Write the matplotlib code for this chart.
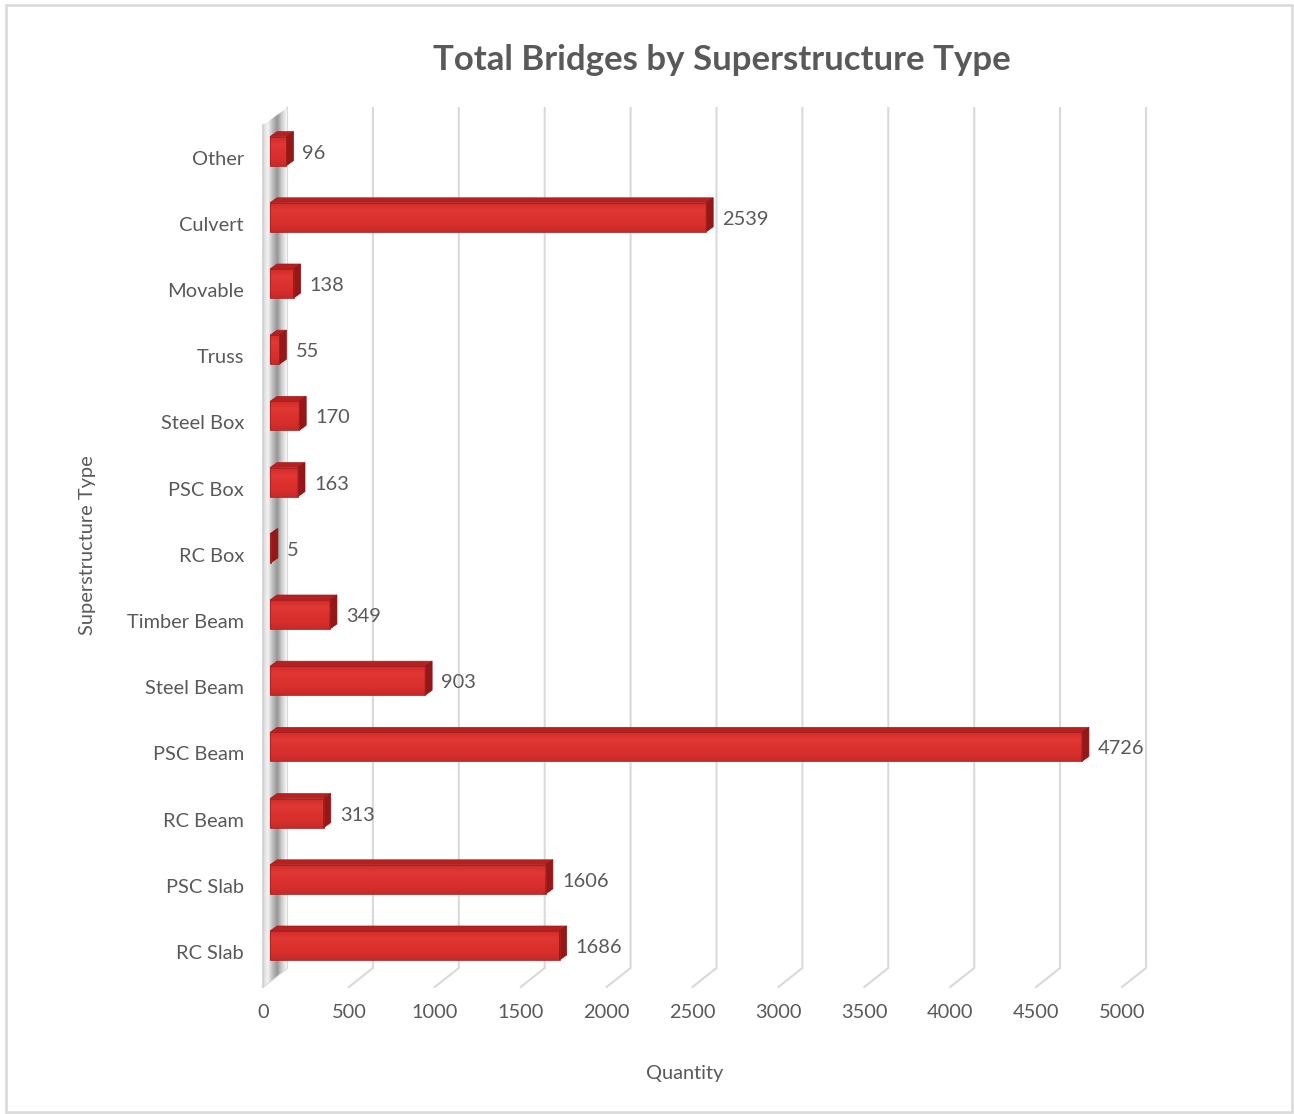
import numpy as np
import matplotlib
matplotlib.use("Agg")
import matplotlib.pyplot as plt
from matplotlib.patches import Rectangle, Polygon
from matplotlib.colors import LinearSegmentedColormap

plt.rcParams['font.family'] = ['Lato', 'DejaVu Sans']

# ---- data ----
categories = ["RC Slab", "PSC Slab", "RC Beam", "PSC Beam", "Steel Beam", "Timber Beam",
              "RC Box", "PSC Box", "Steel Box", "Truss", "Movable", "Culvert", "Other"]
quantities = [1686, 1606, 313, 4726, 903, 349, 5, 163, 170, 55, 138, 2539, 96]
x_ticks = [0, 500, 1000, 1500, 2000, 2500, 3000, 3500, 4000, 4500, 5000]
title = "Total Bridges by Superstructure Type"
x_label = "Quantity"
y_label = "Superstructure Type"

# ---- geometry (pixel helpers) ----
W, H = 1294, 1114
SX = 0.1718        # px per unit on front plane
X0 = 270           # px of value 0 on bar front plane
SY = 66.2          # px per category
Y0 = 945.5         # px (from top) of first category center
FS = 14.4

def vx(px):  # px -> data x
    return (px - X0) / SX

def iy(py):  # px (from top) -> data y
    return (Y0 - py) / SY

fig = plt.figure(figsize=(W / 100, H / 100), dpi=100)
ax = fig.add_axes([0, 0, 1, 1])
ax.set_xlim(vx(0), vx(W))
ax.set_ylim(iy(H), iy(0))
ax.axis('off')

grey = '#595959'
grid_c = '#d9d9d9'

# outer frame
fig.patches.append(Rectangle((6 / W, 1 - 1112 / H), (1292 - 6) / W, (1112 - 5) / H,
                             transform=fig.transFigure, fill=False, ec='#d9d9d9', lw=1.8))

# gridlines (back wall + floor diagonal)
back_off = 17 / SX
floor_off = -7 / SX
for v in x_ticks:
    ax.plot([v + back_off, v + back_off, v + floor_off],
            [iy(108), iy(968), iy(987)], color=grid_c, lw=1.5, zorder=1,
            solid_joinstyle='miter')

# left wall (side wall seen edge-on) with gradient
wall_pts = [(vx(263), iy(125)), (vx(287), iy(108)), (vx(287), iy(968)), (vx(263), iy(987))]
wall = Polygon(wall_pts, closed=True, fc='none', ec='none')
ax.add_patch(wall)
wall_cmap = LinearSegmentedColormap.from_list(
    'wall', ['#d8d8d8', '#f4f4f4', '#bdbdbd', '#969696', '#d0d0d0', '#f7f7f7'])
grad = np.linspace(0, 1, 64).reshape(1, -1)
im = ax.imshow(grad, cmap=wall_cmap, extent=[vx(263), vx(287), iy(987), iy(108)],
               aspect='auto', zorder=2, interpolation='bilinear')
im.set_clip_path(wall)
ax.plot([vx(263), vx(263)], [iy(125), iy(987)], color='#d0d0d0', lw=1.2, zorder=2.1)

# bars (pseudo 3D)
bar_h = 29 / SY
dx = 7 / SX
dy = 5 / SY
front_cmap = LinearSegmentedColormap.from_list(
    'front', ['#c62a28', '#d72f2d', '#dc322f', '#e03834', '#d22c2a'])
vgrad = np.linspace(0, 1, 64).reshape(-1, 1)
for i, (cat, q) in enumerate(zip(categories, quantities)):
    y0 = i - bar_h / 2
    y1 = i + bar_h / 2
    front = Rectangle((0, y0), q, bar_h, fc='none', ec='none')
    ax.add_patch(front)
    fim = ax.imshow(vgrad, cmap=front_cmap, extent=[0, q, y0, y1], origin='lower',
                    aspect='auto', zorder=4, interpolation='bilinear')
    fim.set_clip_path(front)
    ax.add_patch(Rectangle((0, y0), q, bar_h, fc='none', ec='#a82020', lw=0.6, zorder=4.2))
    top = Polygon([(0, y1), (q, y1), (q + dx, y1 + dy), (dx, y1 + dy)],
                  closed=True, fc='#b52121', ec='#a41d1d', lw=0.5, zorder=4.1)
    ax.add_patch(top)
    side = Polygon([(q, y0), (q + dx, y0 + dy), (q + dx, y1 + dy), (q, y1)],
                   closed=True, fc='#951717', ec='#8a1515', lw=0.5, zorder=4.1)
    ax.add_patch(side)
    # value label
    ax.text(q + dx + 9 / SX, i - 2 / SY, f"{q}", ha='left', va='center',
            fontsize=FS, color=grey, zorder=6)
    # category label
    ax.text(vx(244), i - 8 / SY, cat, ha='right', va='center',
            fontsize=FS, color=grey, zorder=6)

# x tick labels
for v in x_ticks:
    ax.text(v + floor_off, iy(1013), f"{v}", ha='center', va='center',
            fontsize=FS, color=grey)

# axis titles
ax.text(vx(685), iy(1073), x_label, ha='center', va='center', fontsize=FS, color=grey)
ax.text(vx(88), iy(545), y_label, ha='center', va='center', fontsize=FS,
        color=grey, rotation=90)

# chart title
fig.text(722 / W, 1 - 60 / H, title, ha='center', va='center', fontsize=25,
         fontweight='bold', color=grey)

fig.savefig('out.png', dpi=100)
